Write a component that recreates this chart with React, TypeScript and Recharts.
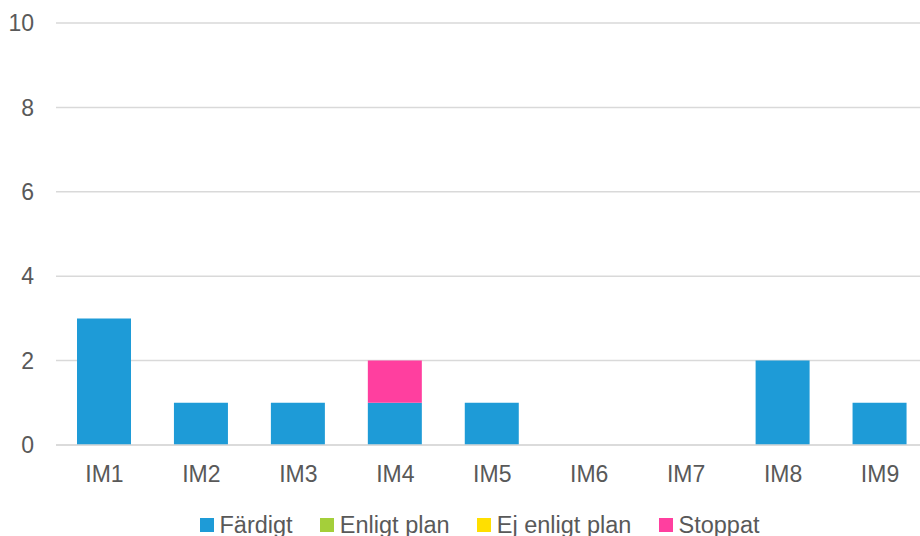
import { BarChart, Bar, XAxis, YAxis, CartesianGrid, Legend } from "recharts"

const categories = ["IM1", "IM2", "IM3", "IM4", "IM5", "IM6", "IM7", "IM8", "IM9"]
const fardigt = [3, 1, 1, 1, 1, 0, 0, 2, 1]
const enligtPlan = [0, 0, 0, 0, 0, 0, 0, 0, 0]
const ejEnligtPlan = [0, 0, 0, 0, 0, 0, 0, 0, 0]
const stoppat = [0, 0, 0, 1, 0, 0, 0, 0, 0]
const yTicks = [0, 2, 4, 6, 8, 10]

const series = [
  { key: "fardigt", name: "Färdigt", color: "#1e9bd7" },
  { key: "enligt", name: "Enligt plan", color: "#a4cf3a" },
  { key: "ej", name: "Ej enligt plan", color: "#ffdf00" },
  { key: "stoppat", name: "Stoppat", color: "#ff3f9f" },
]

const data = categories.map((name, i) => ({
  name,
  fardigt: fardigt[i],
  enligt: enligtPlan[i],
  ej: ejEnligtPlan[i],
  stoppat: stoppat[i],
}))

const FONT = "'Liberation Sans', Arial, sans-serif"
const TEXT = "#595959"

function LegendRow() {
  return (
    <div
      style={{
        display: "flex",
        height: 41,
        paddingTop: 19,
        boxSizing: "border-box",
        paddingLeft: 200,
        fontFamily: FONT,
        fontSize: 23.5,
        color: TEXT,
        lineHeight: "24px",
      }}
    >
      {series.map((s) => (
        <div key={s.key} style={{ display: "flex", alignItems: "center", marginRight: 27.7, whiteSpace: "nowrap" }}>
          <span style={{ width: 13.5, height: 13.5, background: s.color, marginRight: 6, display: "inline-block" }} />
          <span>{s.name}</span>
        </div>
      ))}
    </div>
  )
}

export default function App() {
  return (
    <div style={{ position: "absolute", top: 0, left: 0, width: 920, height: 536, overflow: "hidden", background: "#fff" }}>
      <BarChart
        width={940}
        height={536}
        data={data}
        margin={{ top: 23, right: 11.5, bottom: 0, left: 0 }}
        barSize={54}
      >
        <CartesianGrid vertical={false} stroke="#d9d9d9" strokeWidth={1.5} />
        <XAxis
          dataKey="name"
          height={50}
          tickLine={false}
          axisLine={{ stroke: "#d9d9d9", strokeWidth: 1.5 }}
          tickMargin={15}
          tick={{ fill: TEXT, fontSize: 23, fontFamily: FONT }}
          interval={0}
        />
        <YAxis
          width={56}
          domain={[0, 10]}
          ticks={yTicks}
          tickLine={false}
          axisLine={false}
          tickMargin={16}
          tick={{ fill: TEXT, fontSize: 23, fontFamily: FONT }}
        />
        <Legend verticalAlign="bottom" content={() => <LegendRow />} />
        {series.map((s) => (
          <Bar key={s.key} dataKey={s.key} name={s.name} stackId="a" fill={s.color} isAnimationActive={false} />
        ))}
      </BarChart>
    </div>
  )
}
